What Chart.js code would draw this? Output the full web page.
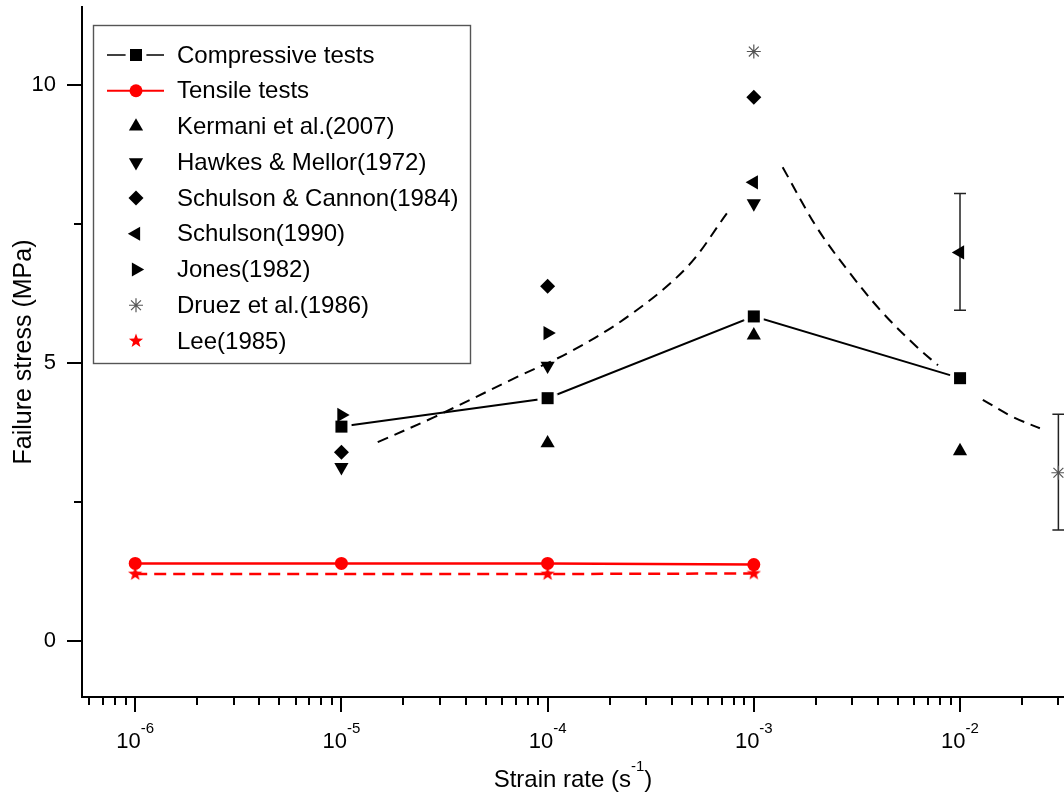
<!DOCTYPE html>
<html>
<head>
<meta charset="utf-8">
<title>Failure stress vs strain rate</title>
<script src="https://cdn.jsdelivr.net/npm/chart.js@4.4.1/dist/chart.umd.min.js"></script>
<style>
  html, body { margin: 0; padding: 0; background: #fff; overflow: hidden; }
  #wrap { width: 1064px; height: 793px; position: relative; }
</style>
</head>
<body>
<div id="wrap"><canvas id="chart"></canvas></div>
<script>
// ---- data -------------------------------------------------------------
const strainRates     = [1e-6, 1e-5, 1e-4, 1e-3, 1e-2];
const compressive     = [null, 3.86, 4.37, 5.84, 4.73];
const tensile         = [1.40, 1.40, 1.40, 1.38, null];
const kermani         = [null, null, 3.56, 5.50, 3.42];
const hawkesMellor    = [null, 3.13, 4.95, 7.87, null];
const schulsonCannon  = [null, 3.40, 6.38, 9.78, null];
const schulson1990    = [null, null, null, 8.25, 6.99];
const jones           = [null, 4.07, 5.54, null, null];
const leeRates        = [1e-6, 1e-4, 1e-3];
const lee             = [1.21, 1.21, 1.22];
const druezRates      = [1e-3, 3e-2];
const druez           = [10.60, 3.03];

// error bars (Schulson 1990 at 1e-2, Druez et al. at 3e-2)
const errRates = [1e-2, 3e-2];
const errLow   = [5.95, 2.00];
const errHigh  = [8.05, 4.08];

// dashed trend curve (null = break in the curve)
const trendRates  = [1.50e-5, 2.82e-5, 6.92e-5, 1.28e-4, 2.50e-4, 4.73e-4, 7.40e-4, 1.0e-3,
                     1.38e-3, 2.02e-3, 2.92e-3, 4.23e-3, 6.18e-3, 7.82e-3, 1.0e-2,
                     1.29e-2, 1.81e-2, 2.44e-2];
const trendStress = [3.58, 4.03, 4.73, 5.20, 5.86, 6.72, 7.69, null,
                     8.52, 7.44, 6.62, 5.90, 5.29, 4.96, null,
                     4.34, 4.03, 3.83];

// axes
const xMin = 5.52e-7, xMax = 3.194e-2;
const yMin = -1, yMax = 11.4;
const xMajorExponents = [-6, -5, -4, -3, -2];
const yMajorTicks = [0, 5, 10];
const yMinorTicks = [2.5, 7.5];
const xTitle = ['Strain rate (s', '-1', ')'];
const yTitle = 'Failure stress (MPa)';

// ---- helpers ----------------------------------------------------------
const FONT = '"Liberation Sans", Arial, Helvetica, sans-serif';
const pts = (xs, ys) => xs.map((x, i) => ({ x, y: ys[i] })).filter(p => p.y !== null);
const ptsKeepGaps = (xs, ys) => xs.map((x, i) => ({ x, y: ys[i] }));

// black square with a white halo so the connecting line stops short of it
function squareMarker() {
  const c = document.createElement('canvas');
  c.width = 22; c.height = 22;
  const g = c.getContext('2d');
  g.fillStyle = '#fff';
  g.beginPath(); g.arc(11, 11, 10.5, 0, Math.PI * 2); g.fill();
  g.fillStyle = '#000';
  g.fillRect(5, 5, 12, 12);
  return c;
}
// filled five-pointed red star
function starMarker() {
  const c = document.createElement('canvas');
  c.width = 18; c.height = 18;
  const g = c.getContext('2d');
  g.fillStyle = '#ff0000';
  g.beginPath();
  for (let i = 0; i < 10; i++) {
    const r = i % 2 === 0 ? 7.5 : 3.1;
    const a = -Math.PI / 2 + i * Math.PI / 5;
    const px = 9 + r * Math.cos(a), py = 9 + r * Math.sin(a);
    i === 0 ? g.moveTo(px, py) : g.lineTo(px, py);
  }
  g.closePath(); g.fill();
  return c;
}

const marker = (style, rotation, radius) => ({
  showLine: false,
  pointStyle: style, pointRotation: rotation, pointRadius: radius,
  pointBackgroundColor: '#000', pointBorderColor: '#000', pointBorderWidth: 0,
  order: 1
});

const datasets = [
  { label: 'Compressive tests', data: pts(strainRates, compressive), showLine: true, legendLine: true,
    borderColor: '#000', borderWidth: 2, pointStyle: squareMarker(), pointRadius: 8, order: 5 },
  { label: 'Tensile tests', data: pts(strainRates, tensile), showLine: true, legendLine: true,
    borderColor: '#ff0000', borderWidth: 2.5, pointStyle: 'circle', pointRadius: 6.5,
    pointBackgroundColor: '#ff0000', pointBorderColor: '#ff0000', pointBorderWidth: 0, order: 5 },
  { label: 'Kermani et al.(2007)', data: pts(strainRates, kermani), ...marker('triangle', 0, 8.2) },
  { label: 'Hawkes & Mellor(1972)', data: pts(strainRates, hawkesMellor), ...marker('triangle', 180, 8.2) },
  { label: 'Schulson & Cannon(1984)', data: pts(strainRates, schulsonCannon), ...marker('rectRot', 0, 7.5) },
  { label: 'Schulson(1990)', data: pts(strainRates, schulson1990), ...marker('triangle', 270, 8.2) },
  { label: 'Jones(1982)', data: pts(strainRates, jones), ...marker('triangle', 90, 8.2) },
  { label: 'Druez et al.(1986)', data: pts(druezRates, druez), showLine: false,
    pointStyle: 'star', pointRadius: 7, pointBorderColor: '#555', pointBackgroundColor: '#555',
    pointBorderWidth: 1.2, order: 1 },
  { label: 'Lee(1985)', data: pts(leeRates, lee), showLine: true,
    borderColor: '#ff0000', borderWidth: 2.5, borderDash: [12, 7],
    pointStyle: starMarker(), pointRadius: 8, order: 4 },
  { label: 'trend', data: ptsKeepGaps(trendRates, trendStress), showLine: true, inLegend: false,
    borderColor: '#000', borderWidth: 2, borderDash: [11, 7], pointRadius: 0,
    tension: 0.35, spanGaps: false, order: 6 }
];

// ---- plugins ----------------------------------------------------------
const errorBars = {
  id: 'errorBars',
  beforeDatasetsDraw(chart) {
    const { ctx, scales: { x, y } } = chart;
    ctx.save();
    ctx.strokeStyle = '#222';
    ctx.lineWidth = 1.5;
    errRates.forEach((r, i) => {
      const px = x.getPixelForValue(r);
      const lo = y.getPixelForValue(errLow[i]);
      const hi = y.getPixelForValue(errHigh[i]);
      ctx.beginPath();
      ctx.moveTo(px, lo); ctx.lineTo(px, hi);
      ctx.moveTo(px - 6, lo); ctx.lineTo(px + 6, lo);
      ctx.moveTo(px - 6, hi); ctx.lineTo(px + 6, hi);
      ctx.stroke();
    });
    ctx.restore();
  }
};

function drawPower(ctx, base, sup, cx, baseline, baseFont, supFont, rise) {
  ctx.font = baseFont; const wb = ctx.measureText(base).width;
  ctx.font = supFont;  const ws = ctx.measureText(sup).width;
  const x0 = cx - (wb + ws) / 2;
  ctx.textAlign = 'left'; ctx.textBaseline = 'alphabetic';
  ctx.font = baseFont; ctx.fillText(base, x0, baseline);
  ctx.font = supFont;  ctx.fillText(sup, x0 + wb, baseline - rise);
}

const axisDecor = {
  id: 'axisDecor',
  afterDraw(chart) {
    const { ctx, chartArea: a, scales: { x, y } } = chart;
    ctx.save();
    ctx.strokeStyle = '#000';
    ctx.fillStyle = '#000';
    ctx.lineWidth = 2;
    const seg = (x1, y1, x2, y2) => { ctx.beginPath(); ctx.moveTo(x1, y1); ctx.lineTo(x2, y2); ctx.stroke(); };

    // y ticks and labels
    yMajorTicks.forEach(v => {
      const py = Math.round(y.getPixelForValue(v));
      seg(a.left - 15, py, a.left, py);
      ctx.font = '22px ' + FONT; ctx.textAlign = 'right'; ctx.textBaseline = 'middle';
      ctx.fillText(String(v), 56, py);
    });
    yMinorTicks.forEach(v => {
      const py = Math.round(y.getPixelForValue(v));
      seg(a.left - 8, py, a.left, py);
    });

    // x ticks (log decades with 2..9 minor ticks) and labels
    for (let e = -7; e <= -2; e++) {
      for (let m = 1; m <= 9; m++) {
        const v = m * Math.pow(10, e);
        if (v < xMin || v > xMax) continue;
        const px = Math.round(x.getPixelForValue(v));
        seg(px, a.bottom, px, a.bottom + (m === 1 ? 15 : 8));
      }
    }
    xMajorExponents.forEach(e => {
      const px = x.getPixelForValue(Math.pow(10, e));
      drawPower(ctx, '10', String(e), px, 748, '22px ' + FONT, '15px ' + FONT, 15);
    });

    // axis titles
    ctx.font = '24px ' + FONT;
    const w0 = ctx.measureText(xTitle[0]).width;
    const w2 = ctx.measureText(xTitle[2]).width;
    ctx.font = '15px ' + FONT;
    const w1 = ctx.measureText(xTitle[1]).width;
    let tx = (a.left + a.right) / 2 - (w0 + w1 + w2) / 2;
    ctx.textAlign = 'left'; ctx.textBaseline = 'alphabetic';
    ctx.font = '24px ' + FONT; ctx.fillText(xTitle[0], tx, 787); tx += w0;
    ctx.font = '15px ' + FONT; ctx.fillText(xTitle[1], tx, 771); tx += w1;
    ctx.font = '24px ' + FONT; ctx.fillText(xTitle[2], tx, 787);

    ctx.save();
    ctx.translate(24, (a.top + a.bottom) / 2);
    ctx.rotate(-Math.PI / 2);
    ctx.font = '25px ' + FONT; ctx.textAlign = 'center'; ctx.textBaseline = 'middle';
    ctx.fillText(yTitle, 0, 0);
    ctx.restore();
    ctx.restore();
  }
};

const boxLegend = {
  id: 'boxLegend',
  afterDraw(chart) {
    const ctx = chart.ctx;
    const H = Chart.helpers;
    ctx.save();
    ctx.strokeStyle = '#555';
    ctx.lineWidth = 1.4;
    ctx.strokeRect(93.5, 25.5, 377, 338);
    const items = chart.data.datasets.filter(d => d.inLegend !== false);
    items.forEach((ds, row) => {
      const cy = 55 + row * 35.75;
      if (ds.legendLine) {
        ctx.save();
        ctx.strokeStyle = ds.borderColor; ctx.lineWidth = ds.borderWidth - 0.5;
        ctx.setLineDash(ds.borderDash || []);
        ctx.beginPath(); ctx.moveTo(107, cy); ctx.lineTo(164, cy); ctx.stroke();
        ctx.restore();
      }
      ctx.save();
      ctx.fillStyle = ds.pointBackgroundColor || '#000';
      ctx.strokeStyle = ds.pointBorderColor || '#000';
      ctx.lineWidth = ds.pointBorderWidth || 0;
      H.drawPoint(ctx, {
        pointStyle: ds.pointStyle, rotation: ds.pointRotation || 0,
        radius: ds.pointRadius, borderWidth: ds.pointBorderWidth || 0
      }, 136, cy);
      ctx.restore();
      ctx.fillStyle = '#000';
      ctx.font = '24px ' + FONT; ctx.textAlign = 'left'; ctx.textBaseline = 'middle';
      ctx.fillText(ds.label, 177, cy + 1);
    });
    ctx.restore();
  }
};

// ---- chart ------------------------------------------------------------
new Chart(document.getElementById('chart'), {
  type: 'scatter',
  data: { datasets },
  options: {
    responsive: true,
    maintainAspectRatio: false,
    animation: false,
    events: [],
    layout: { autoPadding: false, padding: { top: 7, right: 0, bottom: 0, left: 0 } },
    plugins: { legend: { display: false }, tooltip: { enabled: false } },
    scales: {
      x: {
        type: 'logarithmic', min: xMin, max: xMax,
        ticks: { display: false },
        grid: { display: false, drawTicks: false },
        border: { display: true, color: '#000', width: 2 },
        afterFit(s) { s.height = 96; }
      },
      y: {
        type: 'linear', min: yMin, max: yMax,
        ticks: { display: false },
        grid: { display: false, drawTicks: false },
        border: { display: true, color: '#000', width: 2 },
        afterFit(s) { s.width = 82; }
      }
    }
  },
  plugins: [errorBars, axisDecor, boxLegend]
});
</script>
</body>
</html>
